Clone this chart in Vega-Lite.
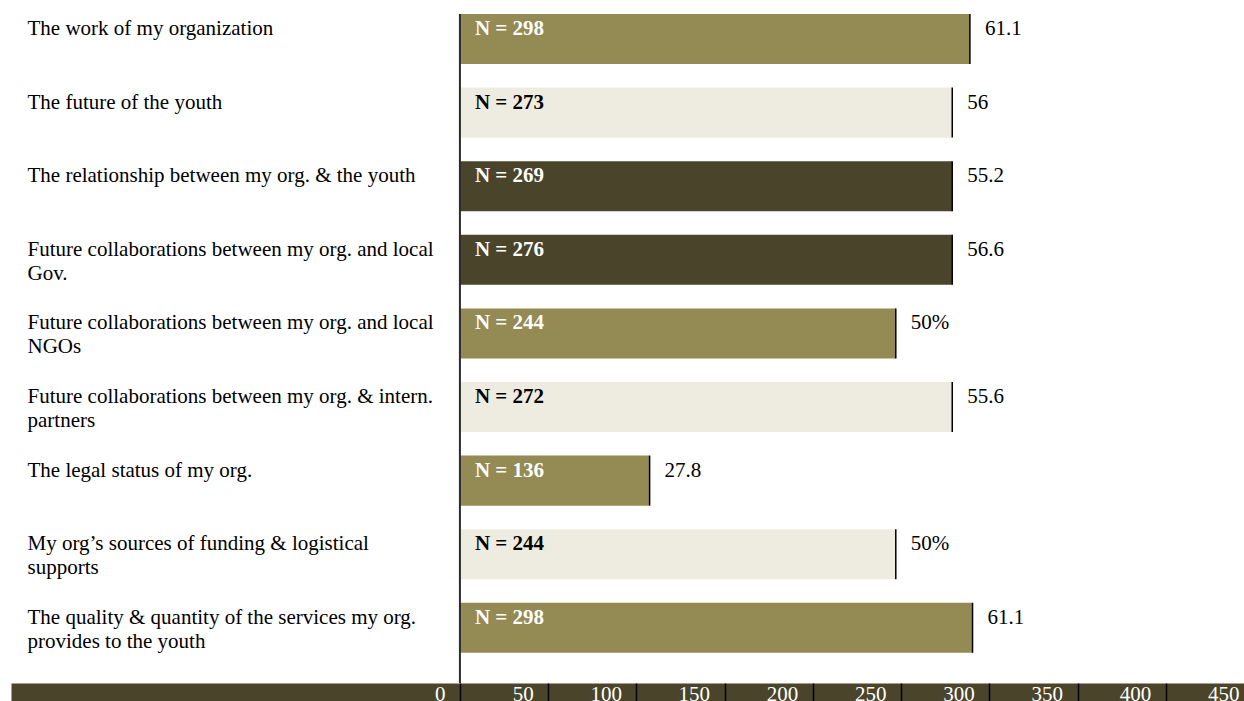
{
  "$schema": "https://vega.github.io/schema/vega-lite/v6.json",
  "width": 1243,
  "height": 669,
  "autosize": {"type": "none"},
  "padding": {"left": 11, "top": 14, "right": -10, "bottom": 18},
  "background": "white",
  "config": {"view": {"stroke": null}, "font": "Liberation Serif"},
  "data": {
    "values": [
      {"item": "The work of my organization", "tone": "mid", "n": 298, "nlabel": "N = 298", "length": 289, "pct": "61.1"},
      {"item": "The future of the youth", "tone": "light", "n": 273, "nlabel": "N = 273", "length": 279, "pct": "56"},
      {"item": "The relationship between my org. & the youth", "tone": "dark", "n": 269, "nlabel": "N = 269", "length": 279, "pct": "55.2"},
      {"item": "Future collaborations between my org. and local\nGov.", "tone": "dark", "n": 276, "nlabel": "N = 276", "length": 279, "pct": "56.6"},
      {"item": "Future collaborations between my org. and local\nNGOs", "tone": "mid", "n": 244, "nlabel": "N = 244", "length": 247, "pct": "50%"},
      {"item": "Future collaborations between my org. & intern.\npartners", "tone": "light", "n": 272, "nlabel": "N = 272", "length": 279, "pct": "55.6"},
      {"item": "The legal status of my org.", "tone": "mid", "n": 136, "nlabel": "N = 136", "length": 107.5, "pct": "27.8"},
      {"item": "My org’s sources of funding & logistical\nsupports", "tone": "light", "n": 244, "nlabel": "N = 244", "length": 247, "pct": "50%"},
      {"item": "The quality & quantity of the services my org.\nprovides to the youth", "tone": "mid", "n": 298, "nlabel": "N = 298", "length": 290.5, "pct": "61.1"}
    ]
  },
  "layer": [
    {
      "mark": {"type": "bar"},
      "encoding": {
        "y": {
          "field": "item", "type": "nominal", "sort": null,
          "scale": {"paddingInner": 0.32, "paddingOuter": 0.205, "align": 0, "round": false},
          "axis": {
            "title": null, "domain": false, "ticks": false, "tickSize": 0, "grid": false,
            "labelAlign": "left", "labelPadding": -16, "labelFont": "Liberation Serif",
            "labelFontSize": 21, "labelColor": "black", "labelBaseline": "alphabetic",
            "labelOffset": -4, "labelLineHeight": 24, "labelLimit": 600,
            "labelOverlap": false, "labelBound": false,
            "labelExpr": "split(datum.label, '\\n')"
          }
        },
        "x": {
          "field": "length", "type": "quantitative",
          "scale": {"domain": [-254.4, 450], "nice": false, "zero": false},
          "axis": {
            "orient": "bottom", "offset": 9, "title": null, "grid": false,
            "domain": true, "domainColor": "#4a452a", "domainWidth": 18, "domainCap": "butt",
            "ticks": false, "tickSize": 0, "labels": false,
            "values": [0, 50, 100, 150, 200, 250, 300, 350, 400, 450],
            "zindex": 1
          }
        },
        "color": {
          "field": "tone", "type": "nominal", "legend": null,
          "scale": {"domain": ["mid", "light", "dark"], "range": ["#948a54", "#eeece1", "#4a452a"]}
        }
      }
    },
    {
      "mark": {"type": "tick", "size": 50, "thickness": 1.5, "color": "black", "opacity": 1},
      "encoding": {
        "y": {"field": "item", "type": "nominal", "sort": null},
        "x": {
          "field": "length", "type": "quantitative",
          "axis": {
            "orient": "bottom", "offset": 0, "title": null, "grid": false,
            "domain": false, "ticks": true, "tickSize": 18,
            "tickColor": "black", "tickWidth": 1.5,
            "values": [0, 50, 100, 150, 200, 250, 300, 350, 400, 450],
            "labels": true,
            "labelColor": "white", "labelFont": "Liberation Serif", "labelFontSize": 21,
            "labelAlign": "right", "labelOffset": -15, "labelBaseline": "alphabetic",
            "labelPadding": -1, "labelOverlap": false, "labelBound": false, "labelFlush": false,
            "zindex": 2
          }
        }
      }
    },
    {
      "data": {"values": [{"zero": 0}]},
      "mark": {"type": "rule", "color": "#2b2b2b", "strokeWidth": 2},
      "encoding": {"x": {"field": "zero", "type": "quantitative", "axis": null}}
    },
    {
      "mark": {"type": "text", "align": "left", "baseline": "alphabetic", "dx": 15, "dy": -4, "fontSize": 21, "fontWeight": "bold", "font": "Liberation Serif"},
      "encoding": {
        "y": {"field": "item", "type": "nominal", "sort": null},
        "x": {"datum": 0, "type": "quantitative", "axis": null},
        "text": {"field": "nlabel"},
        "color": {"condition": {"test": "datum.tone === 'light'", "value": "black"}, "value": "white"}
      }
    },
    {
      "mark": {"type": "text", "align": "left", "baseline": "alphabetic", "dx": 15, "dy": -4, "fontSize": 21, "font": "Liberation Serif", "color": "black"},
      "encoding": {
        "y": {"field": "item", "type": "nominal", "sort": null},
        "x": {"field": "length", "type": "quantitative", "axis": null},
        "text": {"field": "pct"}
      }
    }
  ],
  "resolve": {"axis": {"x": "independent"}}
}
